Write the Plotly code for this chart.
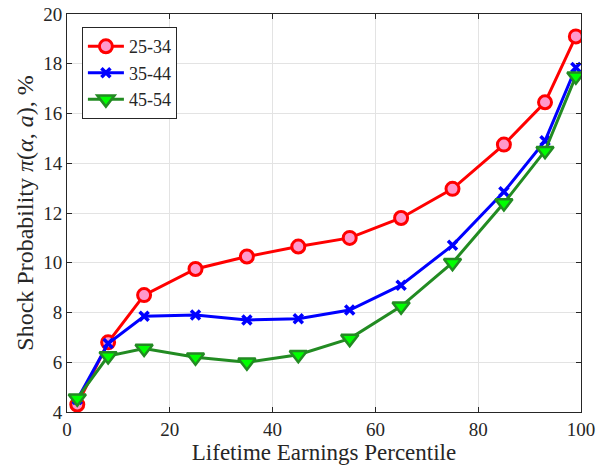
import plotly.graph_objects as go

percentiles = [2, 8, 15, 25, 35, 45, 55, 65, 75, 85, 93, 99]
age_25_34 = [4.3, 6.8, 8.7, 9.75, 10.25, 10.65, 11.0, 11.8, 12.97, 14.75, 16.45, 19.1]
age_35_44 = [4.5, 6.75, 7.85, 7.9, 7.7, 7.75, 8.1, 9.1, 10.7, 12.85, 14.9, 17.85]
age_45_54 = [4.55, 6.25, 6.55, 6.2, 6.0, 6.3, 6.95, 8.25, 10.0, 12.4, 14.5, 17.5]
x_ticks = [0, 20, 40, 60, 80, 100]
y_ticks = [4, 6, 8, 10, 12, 14, 16, 18, 20]

FONT = "Liberation Serif"
TXT = "#262626"

fig = go.Figure()
fig.add_trace(go.Scatter(
    x=percentiles, y=age_25_34, name="25-34", mode="lines+markers",
    line=dict(color="#ff0000", width=3),
    marker=dict(symbol="circle", size=13, color="#ff99cc",
                line=dict(color="#ff0000", width=3))))
fig.add_trace(go.Scatter(
    x=percentiles, y=age_35_44, name="35-44", mode="lines+markers",
    line=dict(color="#0000ff", width=3),
    marker=dict(symbol="x-thin", size=9, color="#0000ff",
                line=dict(color="#0000ff", width=3.5))))
fig.add_trace(go.Scatter(
    x=percentiles, y=age_45_54, name="45-54", mode="lines+markers",
    line=dict(color="#228b22", width=3),
    marker=dict(symbol="triangle-down", size=15, color="#00ff00",
                line=dict(color="#228b22", width=2.5))))

axis_common = dict(
    showline=True, linecolor=TXT, linewidth=1, mirror="ticks",
    ticks="inside", ticklen=5, tickcolor=TXT,
    showgrid=True, gridcolor="#e3e3e3", gridwidth=1, zeroline=False,
    tickfont=dict(family=FONT, size=19, color=TXT),
    automargin=False,
)
fig.update_xaxes(range=[0, 100], tickvals=x_ticks,
                 title=dict(text="Lifetime Earnings Percentile",
                            font=dict(family=FONT, size=23, color=TXT), standoff=0),
                 **axis_common)
fig.update_yaxes(range=[4, 20], tickvals=y_ticks,
                 title=dict(text="Shock Probability <i>π</i>(<i>α</i>, <i>a</i>), %",
                            font=dict(family=FONT, size=24, color=TXT), standoff=2),
                 **axis_common)

fig.update_layout(
    width=597, height=468,
    margin=dict(l=67, r=16, t=14, b=56),
    plot_bgcolor="white", paper_bgcolor="white",
    showlegend=True,
    legend=dict(x=0.029, y=0.967, xanchor="left", yanchor="top",
                bgcolor="white", bordercolor=TXT, borderwidth=1,
                font=dict(family=FONT, size=18, color=TXT),
                itemwidth=36, tracegroupgap=0),
)
fig.write_html("out.html", config={"displayModeBar": False},
               post_script="document.body.style.margin='0px';")
